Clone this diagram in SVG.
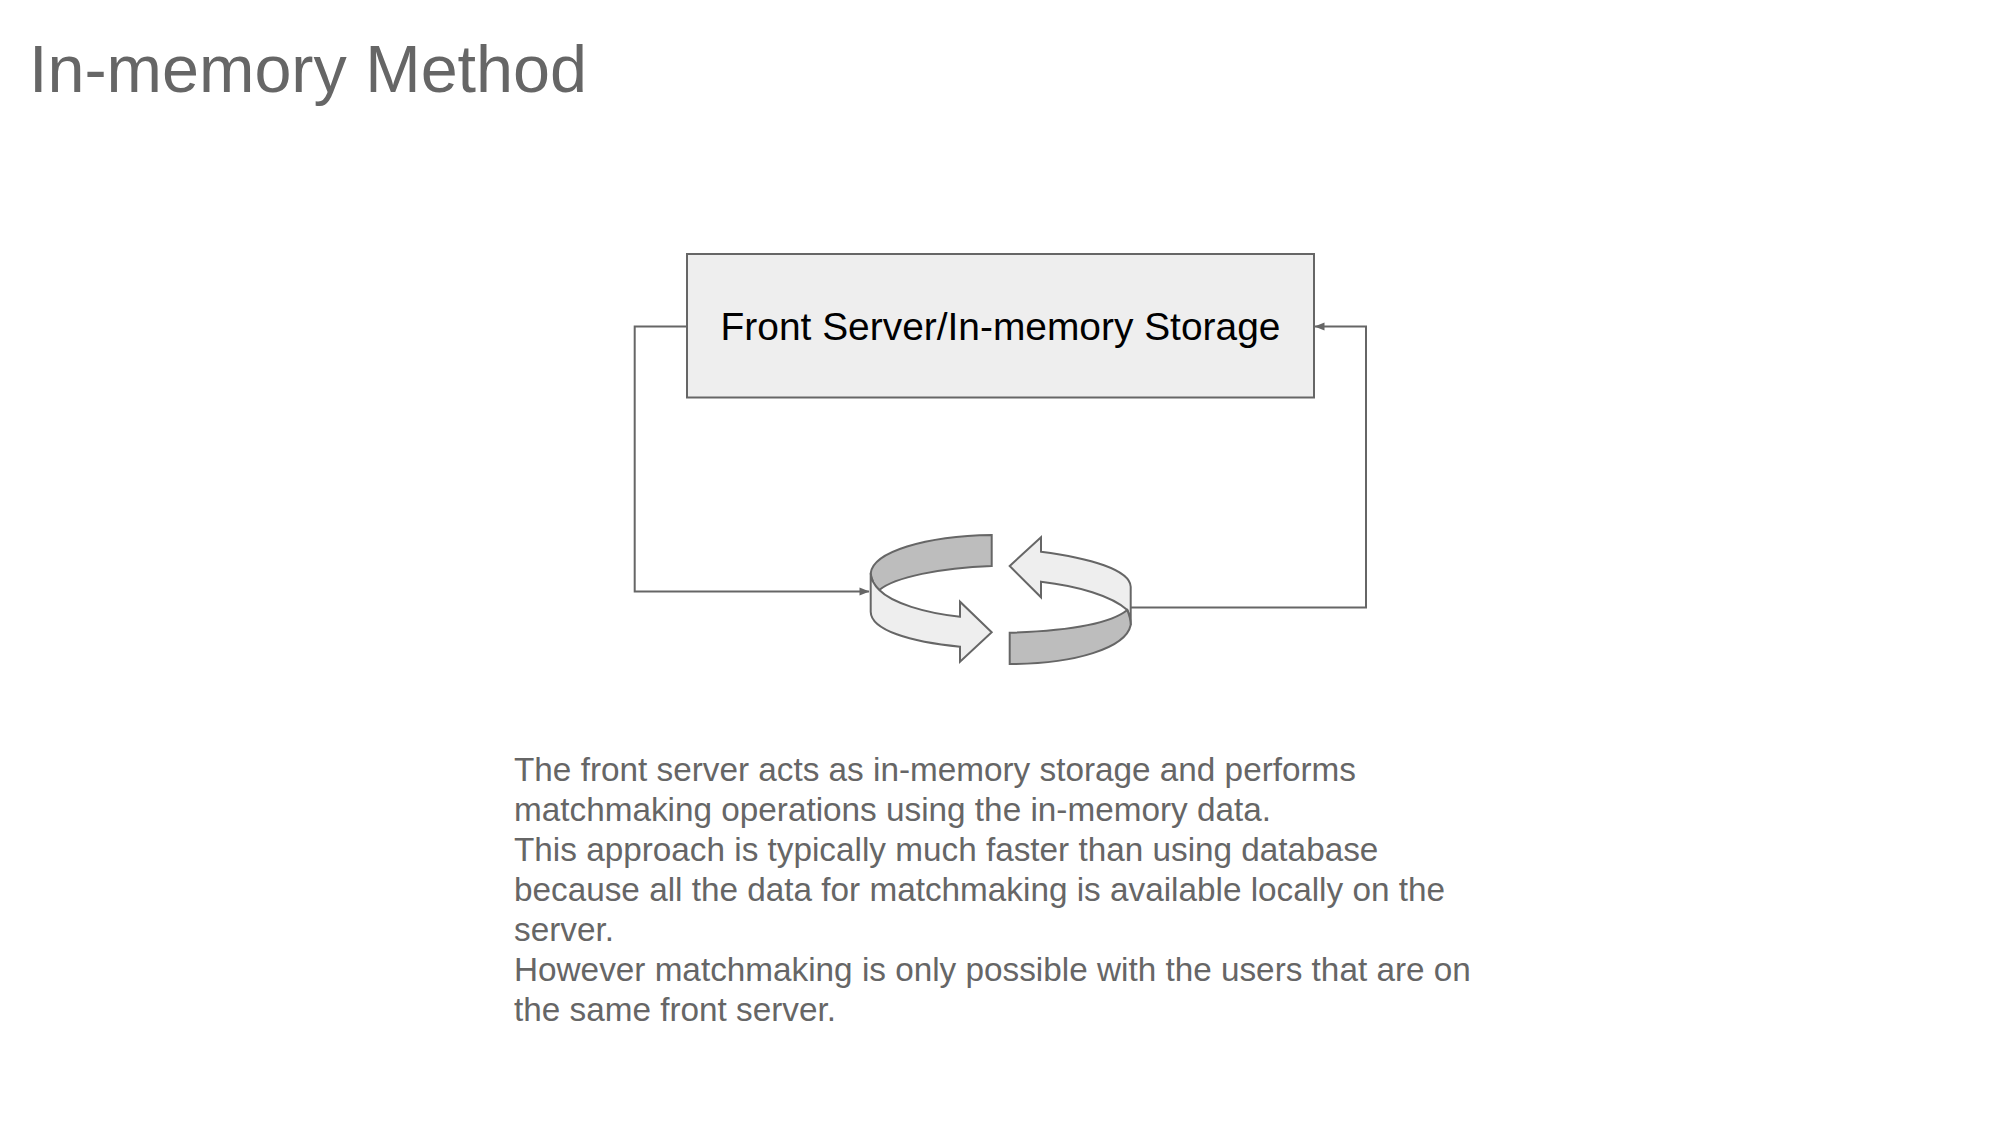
<svg xmlns="http://www.w3.org/2000/svg" width="2000" height="1125" viewBox="0 0 2000 1125">
<style>
text{font-family:"Liberation Sans",Arial,sans-serif}
.t{fill:#666666;font-size:66.500px}
.b{fill:#666666;font-size:33.300px}
.l{fill:#000000;font-size:38.900px;text-anchor:middle}
.s{stroke:#666666;stroke-width:2;stroke-linejoin:miter}
.c{fill:none;stroke:#666666;stroke-width:2}
</style>
<defs>
<marker id="a" viewBox="0 0 10 10" refX="9.500" refY="5" markerWidth="12" markerHeight="10" markerUnits="userSpaceOnUse" orient="auto"><path d="M0 1L10 5L0 9Z" fill="#666666"/></marker>
</defs>
<rect width="2000" height="1125" fill="#ffffff"/>
<text class="t" x="29" y="92">In-memory Method</text>
<g id="connectors">
<path class="c" d="M687 326.500H634.700V591.500H869" marker-end="url(#a)"/>
<path class="c" d="M1131 607.500H1366V326.500H1315" marker-end="url(#a)"/>
</g>
<g id="server">
<rect class="s" x="687" y="254" width="627" height="143.500" fill="#eeeeee"/>
<text class="l" x="1000.500" y="340">Front Server/In-memory Storage</text>
</g>
<g id="cycle">
<path class="s" fill="#bdbdbd" d="M991.700 535V566C940 568 895 577 879.300 590C874 585 871 579 870.700 573.300C873 552 925 536 991.700 535Z"/>
<path class="s" fill="#eeeeee" d="M870.700 573.300C871 579 874 585 879.300 590C892 603 925 613 960 616.700V601.700L991.700 632.300L960 661.700V646.700C910 642 871 630 870.700 611.700Z"/>
<path class="s" fill="#eeeeee" d="M1009.700 566L1041 537.300V551.700C1090 558 1130 570 1130.700 586.700V625C1130 618 1129 614 1127.300 610C1112 596 1078 586 1041 581.700V597.300Z"/>
<path class="s" fill="#bdbdbd" d="M1009.700 632.700C1065 631 1110 624 1127.300 610C1129 614 1130.700 619 1130.700 625C1126 648 1075 664 1009.700 664Z"/>
</g>
<g id="description">
<text class="b" x="514" y="781">The front server acts as in-memory storage and performs</text>
<text class="b" x="514" y="821">matchmaking operations using the in-memory data.</text>
<text class="b" x="514" y="861">This approach is typically much faster than using database</text>
<text class="b" x="514" y="901">because all the data for matchmaking is available locally on the</text>
<text class="b" x="514" y="941">server.</text>
<text class="b" x="514" y="981">However matchmaking is only possible with the users that are on</text>
<text class="b" x="514" y="1021">the same front server.</text>
</g>
</svg>
